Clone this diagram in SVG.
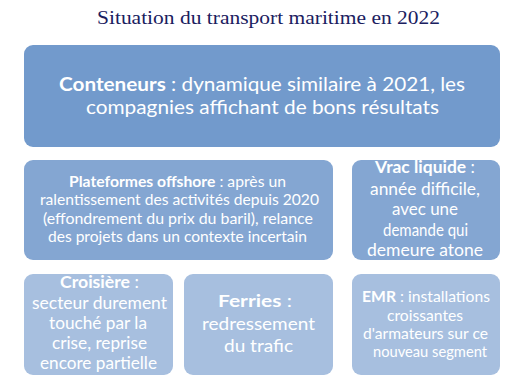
<svg xmlns="http://www.w3.org/2000/svg" width="507" height="386" viewBox="0 0 507 386">
<style>
.t{font-family:Lato,"Open Sans","Liberation Sans",sans-serif;fill:#ffffff;text-anchor:middle}
text{lengthAdjust:spacingAndGlyphs}
.b{font-weight:bold}
.l1{font-size:19.5px}
.l2{font-size:16px}
.l3{font-size:17px}
.l4{font-size:16px}
</style>
<rect width="507" height="386" fill="#ffffff"/>
<text x="268.5" y="24" font-family="'Liberation Serif',serif" font-size="19.5" fill="#1a2060" text-anchor="middle" textLength="343" lengthAdjust="spacingAndGlyphs">Situation du transport maritime en 2022</text>
<g id="conteneurs">
<rect x="24" y="45" width="476" height="102" rx="9" fill="#729acc"/>
<text class="t l1" x="262" y="91" textLength="406" lengthAdjust="spacingAndGlyphs"><tspan class="b">Conteneurs</tspan> : dynamique similaire à 2021, les</text>
<text class="t l1" x="262.5" y="114" textLength="353" lengthAdjust="spacingAndGlyphs">compagnies affichant de bons résultats</text>
</g>
<g id="plateformes">
<rect x="24" y="160" width="309" height="100" rx="9" fill="#84a6d2"/>
<text class="t l2" x="177.5" y="187" textLength="217" lengthAdjust="spacingAndGlyphs"><tspan class="b">Plateformes offshore</tspan> : après un</text>
<text class="t l2" x="179.5" y="205" textLength="279" lengthAdjust="spacingAndGlyphs">ralentissement des activités depuis 2020</text>
<text class="t l2" x="178" y="224" textLength="270" lengthAdjust="spacingAndGlyphs">(effondrement du prix du baril), relance</text>
<text class="t l2" x="177.5" y="242" textLength="259" lengthAdjust="spacingAndGlyphs">des projets dans un contexte incertain</text>
</g>
<g id="vrac">
<rect x="352" y="160" width="148" height="100" rx="9" fill="#84a6d2"/>
<text class="t l3" x="425" y="173" textLength="100" lengthAdjust="spacingAndGlyphs"><tspan class="b">Vrac liquide</tspan> :</text>
<text class="t l3" x="425" y="195" textLength="110" lengthAdjust="spacingAndGlyphs">année difficile,</text>
<text class="t l3" x="425" y="215" textLength="66" lengthAdjust="spacingAndGlyphs">avec une</text>
<text class="t l3" x="425.5" y="236" textLength="85" lengthAdjust="spacingAndGlyphs">demande qui</text>
<text class="t l3" x="425" y="256" textLength="116" lengthAdjust="spacingAndGlyphs">demeure atone</text>
</g>
<g id="croisiere">
<rect x="24" y="274" width="149" height="101" rx="9" fill="#a7bfdf"/>
<text class="t l3" x="99.5" y="288" textLength="79" lengthAdjust="spacingAndGlyphs"><tspan class="b">Croisière</tspan> :</text>
<text class="t l3" x="99.5" y="309" textLength="135" lengthAdjust="spacingAndGlyphs">secteur durement</text>
<text class="t l3" x="98" y="329" textLength="98" lengthAdjust="spacingAndGlyphs">touché par la</text>
<text class="t l3" x="99.5" y="349" textLength="95" lengthAdjust="spacingAndGlyphs">crise, reprise</text>
<text class="t l3" x="98.5" y="369" textLength="117" lengthAdjust="spacingAndGlyphs">encore partielle</text>
</g>
<g id="ferries">
<rect x="184" y="274" width="149" height="101" rx="9" fill="#a7bfdf"/>
<text class="t l3" x="255" y="307" textLength="74" lengthAdjust="spacingAndGlyphs"><tspan class="b">Ferries</tspan>  :</text>
<text class="t l3" x="258.5" y="330" textLength="113" lengthAdjust="spacingAndGlyphs">redressement</text>
<text class="t l3" x="258.5" y="352" textLength="69" lengthAdjust="spacingAndGlyphs">du trafic</text>
</g>
<g id="emr">
<rect x="352" y="274" width="148" height="101" rx="9" fill="#a7bfdf"/>
<text class="t l4" x="426" y="302" textLength="128" lengthAdjust="spacingAndGlyphs"><tspan class="b">EMR</tspan> : installations</text>
<text class="t l4" x="425" y="321" textLength="76" lengthAdjust="spacingAndGlyphs">croissantes</text>
<text class="t l4" x="425.5" y="339" textLength="125" lengthAdjust="spacingAndGlyphs">d'armateurs sur ce</text>
<text class="t l4" x="430" y="357" textLength="114" lengthAdjust="spacingAndGlyphs">nouveau segment</text>
</g>
<g id="connectors"></g>
</svg>
